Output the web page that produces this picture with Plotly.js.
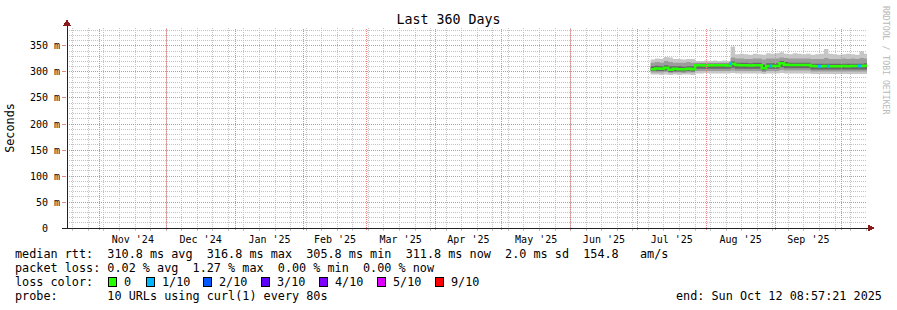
<!DOCTYPE html>
<html><head><meta charset="utf-8">
<script src="https://cdn.plot.ly/plotly-3.0.1.min.js"></script>
<style>html,body{margin:0;padding:0;background:#fff}
.js-plotly-plot .shapelayer path{shape-rendering:crispEdges !important}</style>
</head><body><div id="chart" style="width:897px;height:310px"></div>
<script>
// ---- data ----
const dates = ['2025-07-07','2025-07-09','2025-07-11','2025-07-13','2025-07-15','2025-07-17','2025-07-19','2025-07-21','2025-07-23','2025-07-25','2025-07-27','2025-07-29','2025-07-31',
  '2025-08-02','2025-08-04','2025-08-06','2025-08-08','2025-08-10','2025-08-12','2025-08-14','2025-08-16','2025-08-18','2025-08-20','2025-08-22','2025-08-24','2025-08-26','2025-08-28','2025-08-30',
  '2025-09-01','2025-09-03','2025-09-05','2025-09-07','2025-09-09','2025-09-11','2025-09-13','2025-09-15','2025-09-17','2025-09-19','2025-09-21','2025-09-23','2025-09-25','2025-09-27','2025-09-29',
  '2025-10-01','2025-10-03','2025-10-05','2025-10-07','2025-10-09','2025-10-11','2025-10-12 08:57:21'];
// median rtt (ms)
const median = [305.5,306.5,306,308,304.5,306,305.5,305.5,306,305.5,313,313,312.5,
  313,313,313,313,312.5,316,313.5,313,313,312.5,313,313,307,311.5,311.5,
  311.5,316.8,314,313.5,313.5,313.5,313.5,313.5,311.5,311,311,311.5,311,311,311,
  311.5,311,311.5,311.5,311.5,311.8,311.8];
// smoke bands (ms): outer, middle, inner
const hi1 = [324,326,325,329,328,325,325,324,325,325,321,321,322,
  321,322,321,322,321,349,334,335,334,333,335,334,333,336,335,
  336,338,335,334,336,335,334,335,333,334,335,344,335,334,333,
  334,335,334,333,340,335,334];
const lo1 = [295,295,294,295,294,295,294,295,295,294,297,297,298,
  297,297,297,297,297,298,297,297,297,297,297,297,296,297,297,
  297,298,297,297,297,297,297,297,296,296,296,296,296,296,296,
  296,296,296,296,296,296,296];
const hi2 = [318,319,318,321,319,318,318,318,319,318,318,318,318,
  318,318,318,318,318,328,326,326,325,325,326,326,324,326,326,
  326,328,327,326,326,326,326,326,325,325,325,327,325,325,325,
  326,325,326,325,327,326,326];
const lo2 = [299,299,299,300,298,299,299,298,299,299,302,302,302,
  302,302,302,302,302,303,302,302,302,302,302,302,300,302,302,
  302,304,303,303,303,303,303,303,301,301,301,301,301,301,301,
  301,301,301,301,301,301,301];
const hi3 = [311,312,311,313,311,311,311,310,311,311,316,316,316,
  316,316,316,316,316,320,318,318,318,317,318,318,314,317,317,
  317,321,319,318,318,318,318,318,316,316,316,316,316,316,316,
  316,316,316,316,316,317,317];
const lo3 = [302,302,302,303,300,301,301,301,302,301,306,306,306,
  306,306,306,306,306,308,306,306,306,306,306,306,303,306,306,
  306,309,307,307,307,307,307,307,305,305,305,305,305,305,305,
  305,305,305,305,305,305,305];
// lost pings out of 10
const loss = [0,0,0,0,0,0,0,0,0,0,0,0,0,
  0,0,0,0,0,1,0,0,0,0,0,0,0,0,1,
  0,0,0,0,0,0,0,0,0,0,1,0,1,0,0,
  0,0,0,0,1,0,0];

const monthStarts = ['2024-11-01','2024-12-01','2025-01-01','2025-02-01','2025-03-01','2025-04-01','2025-05-01',
  '2025-06-01','2025-07-01','2025-08-01','2025-09-01','2025-10-01'];
const monthLabels = ["Nov '24","Dec '24","Jan '25","Feb '25","Mar '25","Apr '25","May '25","Jun '25","Jul '25","Aug '25","Sep '25"];
const lossLabels = ['0','1/10','2/10','3/10','4/10','5/10','9/10'];
const lossColors = ['#26ff00','#00b8ff','#0059ff','#5e00ff','#7e00ff','#dd00ff','#ff0000'];
const yTicks = [0,50,100,150,200,250,300,350];
const yTickText = yTicks.map(v => v === 0 ? '0\u00a0\u00a0' : v + '\u00a0m');
const statLines = [
  'median rtt:  310.8 ms avg  316.8 ms max  305.8 ms min  311.8 ms now  2.0 ms sd  154.8   am/s',
  'packet loss: 0.02 % avg  1.27 % max  0.00 % min  0.00 % now',
  'loss color:',
  'probe:       10 URLs using curl(1) every 80s'
];
const endText = 'end: Sun Oct 12 08:57:21 2025';
const rangeStart = '2024-10-17 08:57:21';
const rangeEnd = '2025-10-12 08:57:21';
const weekStart = '2024-10-27';

// month label positions: middle of each month period
const toMs = s => new Date(s.replace(' ', 'T') + 'Z').getTime();
const iso = ms => new Date(ms).toISOString().slice(0, 19).replace('T', ' ');
const monthMids = monthLabels.map((_, i) => iso((toMs(monthStarts[i]) + toMs(monthStarts[i + 1])) / 2));

// ---- layout helpers (pixel -> paper) ----
const L = 67, T = 28, W = 800, H = 200;
const px = x => (x - L) / W;
const py = y => (T + H - y) / H;
const nb = s => s.replace(/ /g, '\u00a0');
const MONO = 'DejaVu Sans Mono';
const FS = 11.8;

const band = (lo, hi, color) => [
  {x: dates, y: lo, type: 'scatter', mode: 'lines', line: {width: 0, shape: 'hv'}, hoverinfo: 'skip', showlegend: false},
  {x: dates, y: hi, type: 'scatter', mode: 'lines', line: {width: 0, shape: 'hv'}, fill: 'tonexty', fillcolor: color, hoverinfo: 'skip', showlegend: false}
];

const traces = [
  ...band(lo1, hi1, '#c6c6c6'),
  ...band(lo2, hi2, '#9c9c9c'),
  ...band(lo3, hi3, '#686868'),
  {x: dates, y: median, type: 'scatter', mode: 'lines', line: {color: lossColors[0], width: 2.5, shape: 'hv'}, showlegend: false},
  {x: dates.filter((d, i) => loss[i] > 0), y: median.filter((d, i) => loss[i] > 0), type: 'scatter', mode: 'markers',
   marker: {symbol: 'square', size: 3, color: loss.filter(v => v > 0).map(v => lossColors[v])}, showlegend: false},
  {x: [], y: [], xaxis: 'x2', type: 'scatter', mode: 'markers', showlegend: false}
];

const majorGrid = 'rgb(245,130,130)';
const minorGrid = 'rgb(195,195,195)';

const annotations = [];
statLines.forEach((s, i) => {
  annotations.push({xref: 'paper', yref: 'paper', x: px(13), y: py(254 + 14 * i), xanchor: 'left', yanchor: 'middle',
    text: nb(s), showarrow: false, font: {family: MONO, size: FS, color: '#000'}});
});
annotations.push({xref: 'paper', yref: 'paper', x: px(884), y: py(296), xanchor: 'right', yanchor: 'middle',
  text: nb(endText), showarrow: false, font: {family: MONO, size: FS, color: '#000'}});
const sqOffsets = [0, 38, 95, 153.5, 211, 269, 327];
const shapes = [];
// monthly (major) vertical grid lines
monthStarts.forEach(d => {
  shapes.push({type: 'line', layer: 'above', xref: 'x', yref: 'paper', x0: d, x1: d, y0: -0.012, y1: 1,
    line: {color: majorGrid, width: 1, dash: '1px,1px'}});
});
lossLabels.forEach((lab, i) => {
  const x0 = 108 + sqOffsets[i];
  shapes.push({type: 'rect', xref: 'paper', yref: 'paper', x0: px(x0), x1: px(x0 + 8), y0: py(286.5), y1: py(277.5),
    fillcolor: lossColors[i], line: {color: '#000', width: 1}});
  annotations.push({xref: 'paper', yref: 'paper', x: px(x0 + 13.5), y: py(282), xanchor: 'left', yanchor: 'middle',
    text: nb(lab), showarrow: false, font: {family: MONO, size: FS, color: '#000'}});
});
annotations.push({xref: 'paper', yref: 'paper', x: px(886), y: py(60), xanchor: 'center', yanchor: 'middle', textangle: 90,
  text: nb('RRDTOOL / TOBI OETIKER'), showarrow: false, font: {family: MONO, size: 8.2, color: '#b8b8b8'}});

// axes lines and arrows
shapes.push({type: 'line', xref: 'paper', yref: 'paper', x0: px(62), x1: px(871), y0: 0, y1: 0, line: {color: '#222', width: 1}});
shapes.push({type: 'line', xref: 'paper', yref: 'paper', x0: 0, x1: 0, y0: 0, y1: py(24), line: {color: '#222', width: 1}});
shapes.push({type: 'path', xref: 'paper', yref: 'paper', fillcolor: '#8b1a1a', line: {color: '#8b1a1a', width: 1},
  path: `M ${px(868)},${py(225)} L ${px(874)},${py(228)} L ${px(868)},${py(231)} Z`});
shapes.push({type: 'path', xref: 'paper', yref: 'paper', fillcolor: '#8b1a1a', line: {color: '#8b1a1a', width: 1},
  path: `M ${px(64)},${py(25)} L ${px(67)},${py(20)} L ${px(70)},${py(25)} Z`});

const layout = {
  width: 897, height: 310,
  margin: {l: L, r: 897 - L - W, t: T, b: 310 - T - H, pad: 0},
  paper_bgcolor: '#fff', plot_bgcolor: '#fff',
  title: {text: 'Last 360 Days', xref: 'container', x: 0.5, xanchor: 'center', yref: 'container', y: 1 - 19 / 310, yanchor: 'middle',
    font: {family: MONO, size: 13.3, color: '#000'}},
  // weekly grid
  xaxis: {type: 'date', range: [rangeStart, rangeEnd], tickmode: 'linear', tick0: weekStart, dtick: 7 * 86400000,
    showticklabels: false, showgrid: true, gridcolor: minorGrid, griddash: '1px,1px', gridwidth: 1,
    ticks: 'outside', ticklen: 2, tickcolor: minorGrid, zeroline: false, showline: false},
  // month labels
  xaxis2: {type: 'date', overlaying: 'x', side: 'bottom', range: [rangeStart, rangeEnd], tickmode: 'array', tickvals: monthMids,
    ticktext: monthLabels, showgrid: false, ticks: 'outside', ticklen: 2, tickcolor: 'rgba(0,0,0,0)', zeroline: false, showline: false,
    tickfont: {family: MONO, size: 10, color: '#000'}},
  yaxis: {range: [0, 384.6], tickmode: 'array', tickvals: yTicks, ticktext: yTickText, showgrid: true, gridcolor: majorGrid,
    griddash: '1px,1px', ticks: 'outside', ticklen: 4, tickcolor: majorGrid, zeroline: false, showline: false,
    tickfont: {family: MONO, size: 10, color: '#000'},
    title: {text: 'Seconds', standoff: 12, font: {family: MONO, size: FS, color: '#000'}},
    minor: {tickmode: 'linear', tick0: 0, dtick: 10, showgrid: true, gridcolor: minorGrid, griddash: '1px,1px'}},
  annotations, shapes,
  hovermode: false, showlegend: false
};
Plotly.newPlot('chart', traces, layout, {displayModeBar: false, staticPlot: true});
</script></body></html>
